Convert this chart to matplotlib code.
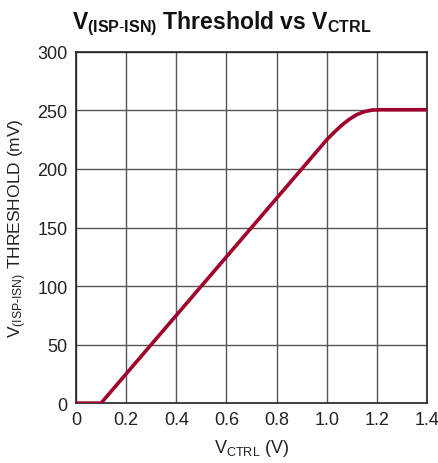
import matplotlib
matplotlib.use("Agg")
import matplotlib.pyplot as plt
from matplotlib import font_manager

names = {f.name for f in font_manager.fontManager.ttflist}
fam = "Liberation Sans Narrow" if "Liberation Sans Narrow" in names else "Liberation Sans"
plt.rcParams['font.family'] = [fam, 'DejaVu Sans']
plt.rcParams['mathtext.fontset'] = 'custom'
plt.rcParams['mathtext.rm'] = fam
plt.rcParams['mathtext.it'] = fam
plt.rcParams['mathtext.bf'] = fam + ':bold'

# Data
vctrl = [0.0, 0.1, 1.0, 1.03, 1.06, 1.09, 1.12, 1.15, 1.18, 1.21, 1.4]
threshold = [0.0, 0.0, 225.0, 231.5, 237.5, 242.5, 246.5, 249.0, 250.3, 250.6, 250.6]
xticks = [0, 0.2, 0.4, 0.6, 0.8, 1.0, 1.2, 1.4]
xticklabels = ["0", "0.2", "0.4", "0.6", "0.8", "1.0", "1.2", "1.4"]
yticks = [0, 50, 100, 150, 200, 250, 300]

fig = plt.figure(figsize=(4.39, 4.64), dpi=100)
ax = fig.add_axes([0.173, 0.129, 0.800, 0.757])
ax.plot(vctrl, threshold, color="#A0002C", lw=2.6, solid_capstyle='butt', zorder=3)
ax.set_xlim(0, 1.4)
ax.set_ylim(0, 300)
ax.set_xticks(xticks)
ax.set_xticklabels(xticklabels)
ax.set_yticks(yticks)
ax.tick_params(length=0, labelsize=13, pad=6, colors="#222222")
ax.grid(True, color="#555555", lw=1.0)
for s in ax.spines.values():
    s.set_color("#222222")
    s.set_linewidth(1.2)
ax.set_xlabel(r"V$_{\mathrm{CTRL}}$ (V)", fontsize=13, color="#222222", labelpad=6)
ax.set_ylabel(r"V$_{\mathrm{(ISP\text{-}ISN)}}$ THRESHOLD (mV)", fontsize=12.5, color="#222222", labelpad=6)
fig.text(0.505, 0.948, r"V$_{\mathbf{(ISP\text{-}ISN)}}$ Threshold vs V$_{\mathbf{CTRL}}$",
         ha="center", va="center", fontsize=16.5, fontweight="bold", color="#111111")
fig.savefig("out.png", dpi=100)
